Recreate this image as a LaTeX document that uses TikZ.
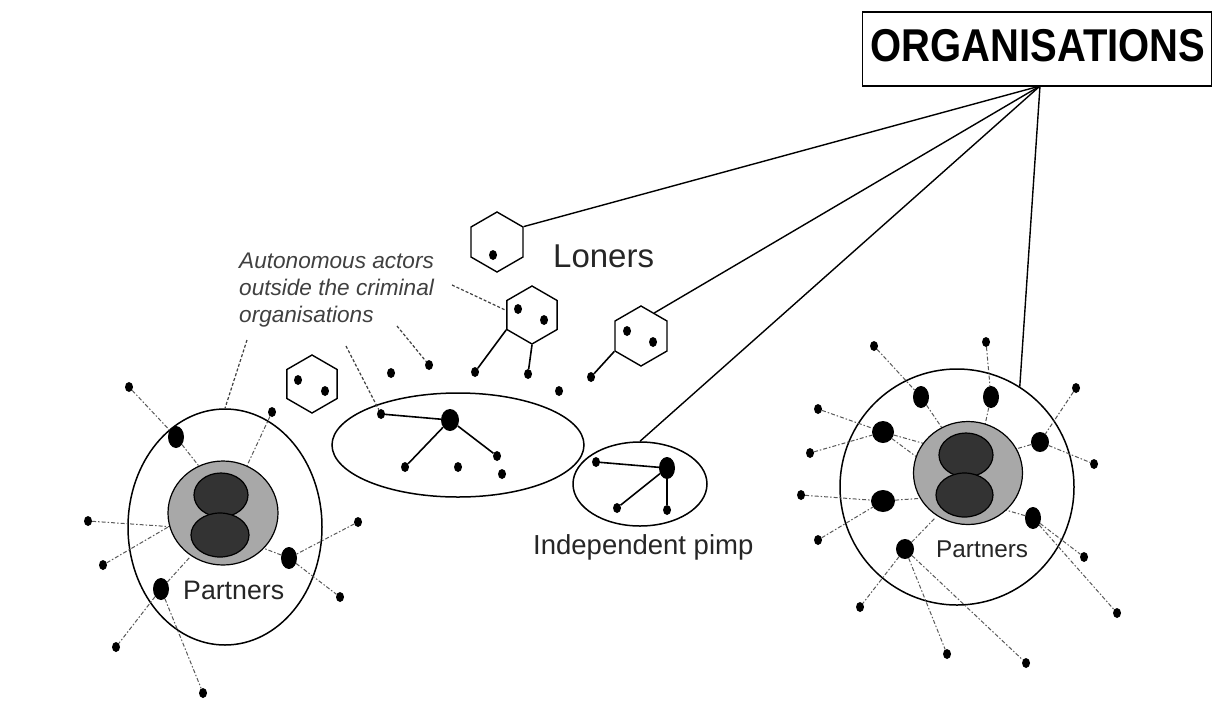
\documentclass[tikz,border=0pt]{standalone}
\usepackage{fontspec}
\setmainfont{Liberation Sans}
\usetikzlibrary{shapes.geometric}
\definecolor{coregray}{HTML}{A8A8A8}
\definecolor{coredark}{HTML}{333333}
\begin{document}
\begin{tikzpicture}[x=1pt,y=-1pt,
  sdot/.style={ellipse,fill=black,inner sep=0pt,minimum width=8pt,minimum height=10pt},
  bdot/.style={ellipse,fill=black,inner sep=0pt,minimum width=16pt,minimum height=22pt},
  hexa/.style={regular polygon,regular polygon sides=6,shape border rotate=30,draw=black,line width=1.4pt,minimum size=58pt,inner sep=0pt},
  ring/.style={ellipse,draw=black,line width=1.5pt,inner sep=0pt},
  core/.style={ellipse,draw=black,line width=1.2pt,fill=coregray,inner sep=0pt},
  lobe/.style={ellipse,draw=black,line width=1.2pt,fill=coredark,inner sep=0pt},
  tie/.style={draw=black!65,line width=1pt,dash pattern=on 4pt off 2pt on 1.5pt off 2pt},
  link/.style={draw=black,line width=1.6pt},
  orgline/.style={draw=black,line width=1.4pt},
  ptr/.style={draw=black!75,line width=1.2pt,dash pattern=on 3pt off 2pt},
  lbl/.style={anchor=base west,inner sep=0pt,text=black!85},
  ann/.style={anchor=base west,inner sep=0pt,text=black!75,font=\itshape\fontsize{22.6}{27}\selectfont},
]
\useasboundingbox[fill=white] (0,0) rectangle (1213,702);

% ---------------- ORGANISATIONS box
\node[draw=black,line width=1.4pt,minimum width=349pt,minimum height=74pt,inner sep=0pt] (ORG) at (1037,49) {};
\node[anchor=base,inner sep=0pt] (orgtxt) at (1038,61) {\scalebox{1}[1.15]{\bfseries\fontsize{40}{48}\selectfont ORGANISATIONS}};
\coordinate (orgp) at (1040,86);

% ---------------- LEFT CLUSTER
\node[ring,minimum width=194pt,minimum height=236pt] (Lout) at (225,527) {};
\node[bdot] (LB1) at (176,437) {};
\node[bdot] (LB2) at (289,558) {};
\node[bdot] (LB3) at (161,589) {};
\node[sdot] (ls1) at (129,387) {};
\node[sdot] (ls2) at (272,412) {};
\node[sdot] (ls3) at (88,521) {};
\node[sdot] (ls4) at (103,565) {};
\node[sdot] (ls5) at (358,522) {};
\node[sdot] (ls6) at (340,597) {};
\node[sdot] (ls7) at (116,647) {};
\node[sdot] (ls8) at (203,693) {};
\coordinate (lc1) at (202,470);
\coordinate (lc2) at (245,470);
\coordinate (lc3) at (175,527);
\coordinate (lc4) at (175,523);
\coordinate (lc5) at (255,545);
\coordinate (lc6) at (190,557);
\draw[tie] (ls1) -- (LB1) -- (lc1);
\draw[tie] (ls2) -- (lc2);
\draw[tie] (ls3) -- (lc3);
\draw[tie] (ls4) -- (lc4);
\draw[tie] (ls5) -- (LB2) -- (lc5);
\draw[tie] (LB2) -- (ls6);
\draw[tie] (LB3) -- (lc6);
\draw[tie] (LB3) -- (ls7);
\draw[tie] (LB3) -- (ls8);
\node[core,minimum width=110pt,minimum height=104pt] (Lcore) at (223,513) {};
\node[lobe,minimum width=54pt,minimum height=44pt] (Lup) at (221,495) {};
\node[lobe,minimum width=58pt,minimum height=44pt] (Llow) at (220,535) {};
\node[lbl,font=\fontsize{26.7}{32}\selectfont] (Lpart) at (183,599) {Partners};

% ---------------- HEXAGONS
\node[hexa,minimum size=60pt] (hexL) at (497,242) {};
\node[sdot] (hL1) at (493,255) {};
\node[hexa] (hexM) at (532,315) {};
\node[sdot] (hM1) at (518,309) {};
\node[sdot] (hM2) at (544,320) {};
\node[hexa,minimum size=60pt] (hexR) at (641,336) {};
\node[sdot] (hR1) at (627,331) {};
\node[sdot] (hR2) at (653,342) {};
\node[hexa] (hexS) at (312,384) {};
\node[sdot] (hS1) at (298,380) {};
\node[sdot] (hS2) at (325,391) {};
\node[lbl,font=\fontsize{33}{40}\selectfont] (loners) at (553,267) {Loners};

% ---------------- MIDDLE GROUP
\node[ring,minimum width=252pt,minimum height=104pt] (mid) at (458,445) {};
\node[sdot] (m1) at (381,414) {};
\node[bdot,minimum width=18pt] (M) at (450,420) {};
\node[sdot] (m2) at (405,467) {};
\node[sdot] (m3) at (458,467) {};
\node[sdot] (m4) at (497,456) {};
\node[sdot] (m5) at (502,474) {};
\draw[link] (M) -- (m1);
\draw[link] (M) -- (m2);
\draw[link] (M) -- (m4);
\node[sdot] (o1) at (391,373) {};
\node[sdot] (o2) at (429,365) {};
\node[sdot] (o3) at (475,372) {};
\node[sdot] (o4) at (528,374) {};
\node[sdot] (o5) at (559,391) {};
\node[sdot] (o6) at (591,377) {};
\draw[link] (hexM.210) -- (o3);
\draw[link] (hexM.270) -- (o4);
\draw[link] (hexR.210) -- (o6);

% ---------------- INDEPENDENT PIMP
\node[ring,minimum width=134pt,minimum height=84pt] (pimp) at (640,484) {};
\node[sdot] (p1) at (596,462) {};
\node[bdot] (P) at (667,468) {};
\node[sdot] (p2) at (617,508) {};
\node[sdot] (p3) at (667,510) {};
\draw[link] (P) -- (p1);
\draw[link] (P) -- (p2);
\draw[link] (P) -- (p3);
\node[lbl,font=\fontsize{27.5}{33}\selectfont] (pimptxt) at (533,554) {Independent pimp};

% ---------------- RIGHT CLUSTER
\node[ring,minimum width=234pt,minimum height=236pt] (Rout) at (957,487) {};
\node[bdot] (R1) at (921,397) {};
\node[bdot] (R2) at (991,397) {};
\node[bdot,minimum width=22pt] (R3) at (883,432) {};
\node[bdot,minimum width=18pt,minimum height=20pt] (R4) at (1040,442) {};
\node[bdot,minimum width=24pt] (R5) at (883,501) {};
\node[bdot] (R6) at (1033,518) {};
\node[bdot,minimum width=18pt,minimum height=20pt] (R7) at (905,549) {};
\node[sdot] (r1) at (874,346) {};
\node[sdot] (r2) at (986,342) {};
\node[sdot] (r3) at (1076,388) {};
\node[sdot] (r4) at (818,409) {};
\node[sdot] (r5) at (810,453) {};
\node[sdot] (r6) at (1094,464) {};
\node[sdot] (r7) at (801,495) {};
\node[sdot] (r8) at (818,540) {};
\node[sdot] (r9) at (1084,557) {};
\node[sdot] (r10) at (860,607) {};
\node[sdot] (r11) at (1117,613) {};
\node[sdot] (r12) at (947,654) {};
\node[sdot] (r13) at (1026,663) {};
\coordinate (rc1) at (942,428);
\coordinate (rc2) at (985,425);
\coordinate (rc3) at (995,455);
\coordinate (rc4) at (940,448);
\coordinate (rc5) at (945,478);
\coordinate (rc6) at (940,497);
\coordinate (rc7) at (992,506);
\coordinate (rc8) at (935,518);
\draw[tie] (r1) -- (R1) -- (rc1);
\draw[tie] (r2) -- (R2) -- (rc2);
\draw[tie] (r3) -- (R4) -- (r6);
\draw[tie] (R4) -- (rc3);
\draw[tie] (r4) -- (R3);
\draw[tie] (r5) -- (R3);
\draw[tie] (R3) -- (rc4);
\draw[tie] (R3) -- (rc5);
\draw[tie] (r7) -- (R5) -- (rc6);
\draw[tie] (r8) -- (R5);
\draw[tie] (R6) -- (rc7);
\draw[tie] (R6) -- (r9);
\draw[tie] (R6) -- (r11);
\draw[tie] (R7) -- (rc8);
\draw[tie] (R7) -- (r10);
\draw[tie] (R7) -- (r12);
\draw[tie] (R7) -- (r13);
\node[core,minimum width=109pt,minimum height=103pt] (Rcore) at (968,473) {};
\node[lobe,minimum width=54pt,minimum height=44pt] (Rup) at (966,455) {};
\node[lobe,minimum width=57pt,minimum height=44pt] (Rlow) at (964.5,495) {};
\node[lbl,font=\fontsize{24.3}{29}\selectfont] (Rpart) at (936,557) {Partners};

% ---------------- LINKS TO ORGANISATIONS
\draw[orgline] (orgp) -- (hexL.30);
\draw[orgline] (orgp) -- (hexR.60);
\draw[orgline] (orgp) -- (pimp.north);
\draw[orgline] (orgp) -- (Rout.58);

% ---------------- ANNOTATION
\node[ann] (ann1) at (239,268) {Autonomous actors};
\node[ann] (ann2) at (239,295) {outside the criminal};
\node[ann] (ann3) at (239,322) {organisations};
\coordinate (a1) at (452,285);
\coordinate (a2) at (397,326);
\coordinate (a3) at (346,346);
\coordinate (a4) at (247,340);
\draw[ptr] (a1) -- (hexM.170);
\draw[ptr] (a2) -- (o2);
\draw[ptr] (a3) -- (m1);
\draw[ptr] (a4) -- (Lout.north);
\end{tikzpicture}
\end{document}
